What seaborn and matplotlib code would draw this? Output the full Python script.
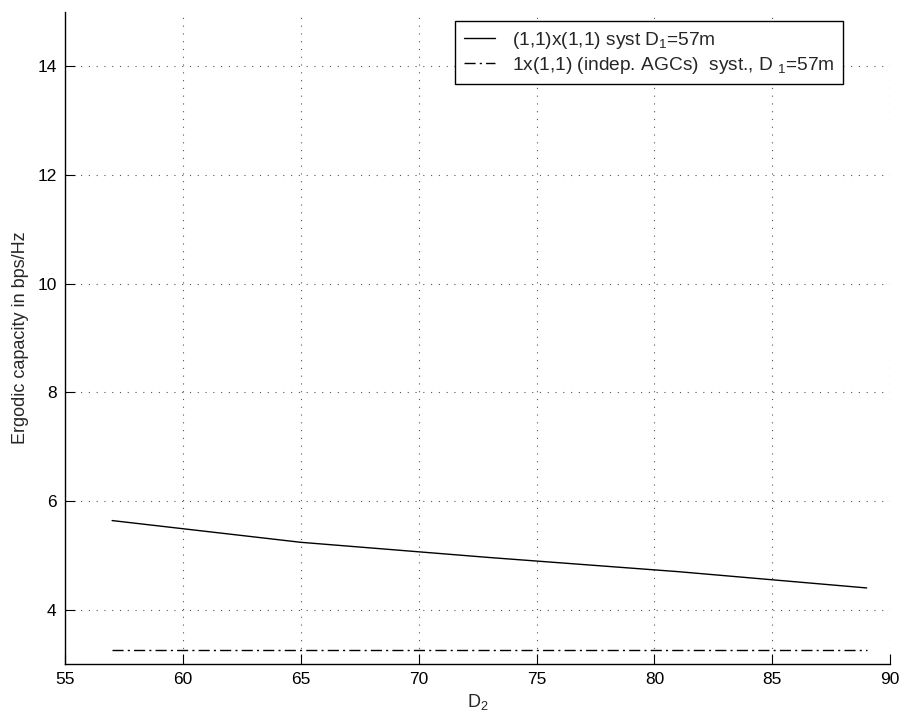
import numpy as np
import pandas as pd
import matplotlib
matplotlib.use('Agg')
import matplotlib.pyplot as plt
import seaborn as sns

# data
d2 = [57, 65, 73, 81, 89]
cap_11x11 = [5.64, 5.24, 4.96, 4.70, 4.40]
cap_indep = [3.25, 3.25, 3.25, 3.25, 3.25]

lab1 = '(1,1)x(1,1) syst D$_1$=57m'
lab2 = '1x(1,1) (indep. AGCs)  syst., D $_1$=57m'

df = pd.DataFrame({'D2': d2 + d2,
                   'cap': cap_11x11 + cap_indep,
                   'syst': [lab1] * len(d2) + [lab2] * len(d2)})

sns.set_style('white')
plt.rcParams['font.family'] = ['Liberation Sans', 'DejaVu Sans']
plt.rcParams['mathtext.fontset'] = 'custom'
plt.rcParams['mathtext.rm'] = 'Liberation Sans'
plt.rcParams['mathtext.it'] = 'Liberation Sans'

fig = plt.figure(figsize=(9.02, 7.15), dpi=100)
ax = fig.add_axes([0.072, 0.0713, 0.915, 0.912])

sns.lineplot(data=df, x='D2', y='cap', hue='syst', style='syst',
             palette=['black', 'black'], dashes=[(None, None), (8, 3, 1.5, 3)],
             linewidth=1.0, ax=ax)

ax.set_xlim(55, 90)
ax.set_ylim(3, 15)
ax.set_xticks(np.arange(55, 91, 5))
ax.set_yticks([4, 6, 8, 10, 12, 14])
ax.grid(True, color='#555555', linestyle=(0, (1, 6)), linewidth=0.8)
for s in ['top', 'right']:
    ax.spines[s].set_visible(False)
for s in ['left', 'bottom']:
    ax.spines[s].set_color('black')
    ax.spines[s].set_linewidth(1.0)
ax.tick_params(direction='in', length=7, width=0.8, labelsize=12.5, colors='black',
               left=True, bottom=True, pad=6)
ax.set_xlabel('D$_2$', fontsize=13, labelpad=3)
ax.set_ylabel('Ergodic capacity in bps/Hz', fontsize=13, labelpad=6)

leg = ax.legend(loc='upper right', bbox_to_anchor=(0.943, 0.986), fontsize=13.8,
                frameon=True, fancybox=False, edgecolor='black', framealpha=1,
                handlelength=1.6, handletextpad=0.9, borderpad=0.45,
                labelspacing=0.2, borderaxespad=0)
leg.get_frame().set_linewidth(1.0)

fig.savefig('out.png', dpi=100)
